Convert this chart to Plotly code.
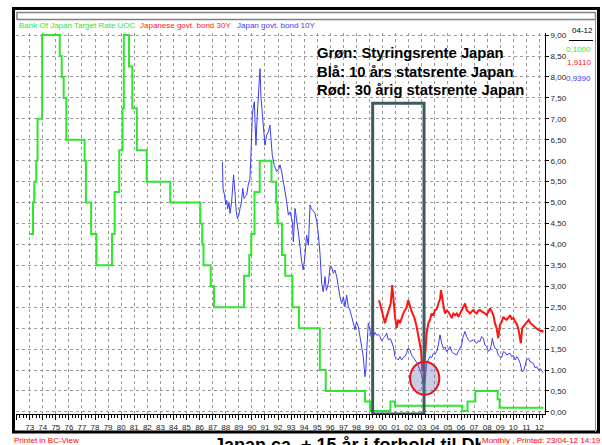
import plotly.graph_objects as go

# --- data ---
# Bank of Japan target rate (UOC), step changes: (year, new level)
boj_x = [1972.95, 1973.25, 1973.35, 1973.5, 1973.6, 1973.95, 1975.3, 1975.45, 1975.6, 1975.8,
         1977.2, 1977.3, 1977.7, 1978.1, 1979.3, 1979.5, 1979.85, 1980.1, 1980.2, 1980.6,
         1980.85, 1981.2, 1981.95, 1983.75, 1986.05, 1986.2, 1986.3, 1986.85, 1987.1, 1989.4,
         1989.8, 1989.95, 1990.2, 1990.6, 1991.5, 1991.85, 1991.95, 1992.3, 1992.55, 1993.1,
         1993.6, 1995.2, 1995.65, 1998.65, 1999.05, 2000.6, 2000.95, 2006.1, 2006.5, 2007.1,
         2008.8, 2008.95, 2012.3]
boj_y = [4.25, 5.0, 5.5, 6.0, 7.0, 9.0, 8.5, 8.0, 7.5, 6.5,
         6.0, 5.0, 4.25, 3.5, 4.25, 5.25, 6.25, 7.25, 9.0, 8.25,
         7.25, 6.25, 5.5, 5.0, 4.5, 4.0, 3.5, 3.0, 2.5, 3.25,
         3.75, 4.25, 5.25, 6.0, 5.5, 5.0, 4.5, 3.75, 3.25, 2.5,
         2.0, 1.0, 0.5, 0.25, 0.02, 0.25, 0.15, 0.02, 0.25, 0.5,
         0.3, 0.1, 0.1]

# Japan govt. bond 10Y
jgb10_x = [1987.74, 1987.8, 1987.9, 1988.0, 1988.07, 1988.15, 1988.25, 1988.33, 1988.45, 1988.55,
           1988.6, 1988.7, 1988.8, 1988.9, 1989.0, 1989.09, 1989.2, 1989.3, 1989.4, 1989.5,
           1989.6, 1989.72, 1989.85, 1989.93, 1990.03, 1990.12, 1990.19, 1990.24, 1990.31, 1990.41,
           1990.54, 1990.62, 1990.7, 1990.8, 1990.9, 1991.0, 1991.13, 1991.26, 1991.38, 1991.46,
           1991.56, 1991.71, 1991.9, 1992.05, 1992.15, 1992.28, 1992.4, 1992.53, 1992.66, 1992.79,
           1992.92, 1993.1, 1993.17, 1993.3, 1993.43, 1993.55, 1993.7, 1993.8, 1993.93, 1994.05,
           1994.19, 1994.32, 1994.45, 1994.55, 1994.7, 1994.83, 1994.96, 1995.08, 1995.21, 1995.34,
           1995.46, 1995.59, 1995.7, 1995.85, 1995.98, 1996.1, 1996.23, 1996.35, 1996.49, 1996.61,
           1996.74, 1996.87, 1997.0, 1997.12, 1997.25, 1997.38, 1997.5, 1997.64, 1997.77, 1997.89,
           1998.0, 1998.14, 1998.27, 1998.4, 1998.52, 1998.65, 1998.72, 1998.78, 1998.91, 1999.04,
           1999.17, 1999.3, 1999.42, 1999.55, 1999.68, 1999.8, 1999.92, 2000.05, 2000.18, 2000.31,
           2000.44, 2000.6, 2000.72, 2000.82, 2000.95, 2001.08, 2001.2, 2001.33, 2001.46, 2001.58,
           2001.7, 2001.83, 2001.96, 2002.09, 2002.22, 2002.35, 2002.48, 2002.66, 2002.86, 2002.99,
           2003.12, 2003.2, 2003.3, 2003.37, 2003.5, 2003.63, 2003.76, 2003.89, 2004.02, 2004.14,
           2004.27, 2004.39, 2004.52, 2004.65, 2004.78, 2004.9, 2005.03, 2005.16, 2005.29, 2005.41,
           2005.54, 2005.67, 2005.8, 2005.92, 2006.05, 2006.13, 2006.3, 2006.43, 2006.56, 2006.69,
           2006.81, 2006.94, 2007.07, 2007.2, 2007.33, 2007.45, 2007.58, 2007.7, 2007.83, 2007.96,
           2008.09, 2008.22, 2008.32, 2008.4, 2008.5, 2008.6, 2008.72, 2008.85, 2008.98, 2009.11,
           2009.24, 2009.37, 2009.49, 2009.62, 2009.75, 2009.88, 2010.01, 2010.14, 2010.27, 2010.4,
           2010.53, 2010.66, 2010.8, 2010.9, 2011.0, 2011.18, 2011.28, 2011.41, 2011.54, 2011.67,
           2011.8, 2011.93, 2012.05, 2012.18, 2012.3]
jgb10_y = [5.97, 5.3, 5.2, 4.95, 5.05, 4.85, 5.0, 4.74, 5.02, 5.5,
           5.66, 5.26, 4.8, 4.62, 4.7, 4.86, 5.0, 5.34, 5.1, 5.15,
           5.18, 5.42, 5.58, 6.13, 7.09, 7.3, 7.41, 6.93, 6.37, 7.09,
           7.73, 8.2, 7.49, 7.09, 6.61, 6.37, 6.61, 6.69, 6.85, 6.53,
           6.13, 5.89, 5.74, 5.8, 5.9, 5.74, 5.5, 5.34, 5.02, 4.7,
           4.78, 4.54, 4.06, 4.86, 4.6, 4.3, 3.9, 3.6, 3.39, 3.7,
           4.22, 3.98, 4.94, 4.85, 4.8, 4.74, 4.55, 4.26, 3.79, 3.07,
           2.87, 3.23, 2.9, 3.07, 3.47, 3.47, 3.31, 3.39, 3.23, 2.99,
           2.75, 2.59, 2.75, 2.51, 2.79, 2.51, 2.43, 2.27, 2.12, 1.96,
           2.15, 2.04, 1.8, 1.56, 1.32, 0.84, 1.0, 1.44, 2.12, 1.96,
           1.72, 1.8, 1.9, 1.83, 1.85, 1.8, 1.7, 1.76, 1.8, 1.88,
           1.72, 1.75, 1.65, 1.56, 1.32, 1.28, 1.24, 1.32, 1.24, 1.3,
           1.32, 1.4, 1.52, 1.48, 1.36, 1.3, 1.24, 1.16, 1.0, 0.88,
           0.64, 0.6, 0.9, 1.16, 1.24, 1.32, 1.3, 1.4, 1.38, 1.44,
           1.6, 1.84, 1.64, 1.52, 1.55, 1.44, 1.5, 1.56, 1.45, 1.4,
           1.38, 1.36, 1.45, 1.52, 1.6, 1.76, 1.92, 1.8, 1.72, 1.68,
           1.7, 1.72, 1.68, 1.64, 1.7, 1.68, 1.8, 1.76, 1.6, 1.56,
           1.45, 1.48, 1.6, 1.76, 1.6, 1.52, 1.5, 1.36, 1.32, 1.3,
           1.44, 1.42, 1.36, 1.38, 1.4, 1.32, 1.35, 1.24, 1.32, 1.26,
           1.16, 0.96, 0.99, 1.1, 1.24, 1.28, 1.2, 1.18, 1.16, 1.05,
           1.08, 1.0, 1.04, 0.98, 0.94]

# Japanese govt. bond 30Y
jgb30_x = [1999.67, 1999.75, 1999.93, 2000.05, 2000.18, 2000.28, 2000.44, 2000.62, 2000.74, 2000.82,
           2000.95, 2001.08, 2001.2, 2001.33, 2001.46, 2001.58, 2001.71, 2001.84, 2001.96, 2002.09,
           2002.22, 2002.35, 2002.48, 2002.6, 2002.78, 2002.94, 2003.04, 2003.12, 2003.24, 2003.37,
           2003.5, 2003.63, 2003.75, 2003.88, 2004.0, 2004.13, 2004.27, 2004.4, 2004.47, 2004.6,
           2004.7, 2004.78, 2004.9, 2005.04, 2005.17, 2005.3, 2005.42, 2005.55, 2005.68, 2005.8,
           2005.93, 2006.06, 2006.19, 2006.31, 2006.44, 2006.57, 2006.7, 2006.82, 2006.94, 2007.07,
           2007.2, 2007.32, 2007.45, 2007.58, 2007.7, 2007.83, 2007.96, 2008.09, 2008.22, 2008.35,
           2008.48, 2008.6, 2008.72, 2008.85, 2008.98, 2009.11, 2009.24, 2009.37, 2009.49, 2009.62,
           2009.75, 2009.88, 2010.01, 2010.14, 2010.27, 2010.4, 2010.5, 2010.58, 2010.68, 2010.8,
           2010.93, 2011.05, 2011.18, 2011.31, 2011.44, 2011.56, 2011.69, 2011.82, 2011.95, 2012.08,
           2012.2, 2012.3]
jgb30_y = [2.63, 2.64, 2.43, 2.3, 2.12, 2.24, 2.43, 2.59, 3.03, 2.67,
           2.27, 2.0, 2.2, 2.12, 2.27, 2.35, 2.43, 2.5, 2.67, 2.51,
           2.4, 2.31, 2.2, 2.04, 1.72, 1.48, 1.0, 1.0, 1.32, 1.88,
           2.12, 2.2, 2.35, 2.3, 2.43, 2.45, 2.59, 2.7, 2.91, 2.59,
           2.45, 2.35, 2.42, 2.39, 2.3, 2.24, 2.35, 2.31, 2.35, 2.27,
           2.35, 2.43, 2.5, 2.59, 2.43, 2.38, 2.35, 2.4, 2.43, 2.38,
           2.35, 2.42, 2.43, 2.4, 2.38, 2.35, 2.31, 2.4, 2.47, 2.4,
           2.3, 2.12, 2.0, 1.76, 2.08, 2.15, 2.27, 2.22, 2.2, 2.25,
           2.31, 2.22, 2.24, 2.16, 2.1, 1.96, 1.8, 1.64, 2.0, 2.05,
           2.12, 2.15, 2.2, 2.12, 2.08, 2.05, 2.0, 1.98, 1.96, 1.93,
           1.94, 1.91]

year_ticks = [1972, 1973, 1974, 1975, 1976, 1977, 1978, 1979, 1980, 1981, 1982, 1983, 1984, 1985,
              1986, 1987, 1988, 1989, 1990, 1991, 1992, 1993, 1994, 1995, 1996, 1997, 1998, 1999,
              2000, 2001, 2002, 2003, 2004, 2005, 2006, 2007, 2008, 2009, 2010, 2011, 2012]
year_labels = ['', '73', '74', '75', '76', '77', '78', '79', '80', '81', '82', '83', '84', '85',
               '86', '87', '88', '89', '90', '91', '92', '93', '94', '95', '96', '97', '98', '99',
               '00', '01', '02', '03', '04', '05', '06', '07', '08', '09', '10', '11', '12']

last_values = ['0,1000', '1,9110', '0,9390']
last_date = '04-12'

GREEN = '#2ee62e'
RED = '#ff1414'
BLUE = '#3c3cf0'
FONT = 'Liberation Sans, Arial, sans-serif'

# page geometry (pixels)
W, H = 602, 445
L, R, T, B = 16, 57, 33, 31
PW, PH = W - L - R, H - T - B


def px(x):
    return (x - L) / PW


def py(y):
    return (H - B - y) / PH


fig = go.Figure()

fig.add_trace(go.Scatter(x=boj_x, y=boj_y, mode='lines', line=dict(color=GREEN, width=2, shape='hv'),
                         name='Bank Of Japan Target Rate UOC'))
fig.add_trace(go.Scatter(x=jgb30_x, y=jgb30_y, mode='lines', line=dict(color=RED, width=2),
                         name='Japanese govt. bond 30Y'))
fig.add_trace(go.Scatter(x=jgb10_x, y=jgb10_y, mode='lines', line=dict(color=BLUE, width=1),
                         name='Japan govt. bond 10Y'))

shapes = [
    # outer frame
    dict(type='rect', xref='paper', yref='paper', x0=px(13.5), x1=px(598.5), y0=py(432), y1=py(8.5),
         line=dict(color='black', width=3), layer='above'),
    # grey title bar + inner right edge
    dict(type='rect', xref='paper', yref='paper', x0=px(17), x1=px(595.5), y0=py(19.5), y1=py(12.5),
         line=dict(color='#808080', width=1.5)),
    dict(type='line', xref='paper', yref='paper', x0=px(595.5), x1=px(595.5), y0=py(432), y1=py(13),
         line=dict(color='#909090', width=1)),
    # line under the date
    dict(type='line', xref='paper', yref='paper', x0=px(569), x1=px(593), y0=py(40.5), y1=py(40.5),
         line=dict(color='black', width=1)),
    # highlight box 1999-2003
    dict(type='rect', xref='x', yref='y', x0=1999.24, x1=2003.17, y0=-0.05, y1=7.37,
         line=dict(color='#3e5a60', width=3), layer='above'),
    # circle at the 2003 low
    dict(type='circle', xref='x', yref='y', x0=2002.1, x1=2004.34, y0=0.41, y1=1.2,
         line=dict(color='#ee1111', width=2), fillcolor='rgba(100,110,175,0.35)', layer='above'),
]

ann = []


def label(text, x, y, color='black', size=8, anchor='left', **kw):
    ann.append(dict(text=text, xref='paper', yref='paper', x=px(x), y=py(y), xanchor=anchor,
                    yanchor='middle', showarrow=False, font=dict(family=FONT, size=size, color=color), **kw))


label('Bank Of Japan Target Rate UOC', 17, 25.5, GREEN)
label('Japanese govt. bond 30Y', 138, 25.5, RED)
label('Japan govt. bond 10Y', 235, 25.5, BLUE)

label(last_date, 582, 30.5, 'black', anchor='center')
label(last_values[0], 593, 49, GREEN, anchor='right')
label(last_values[1], 593, 63, RED, anchor='right')
label(last_values[2], 593, 78, BLUE, anchor='right')

label('<b>Grøn: Styringsrente Japan</b>', 315, 53, size=14.8)
label('<b>Blå: 10 års statsrente Japan</b>', 315, 71.5, size=14.8)
label('<b>Rød: 30 årig statsrente Japan</b>', 315, 90, size=14.8)

label('<b>Japan ca. + 15 år i forhold til DK</b>', 212, 445, size=18)
label('Printet in BC-View', 12, 440, '#ff0000')
label('Monthly , Printed: 23/04-12 14:19', 480, 440, '#ff0000', bgcolor='white', borderpad=1)

fig.update_layout(
    width=W, height=H,
    margin=dict(l=L, r=R, t=T, b=B, pad=0),
    paper_bgcolor='white', plot_bgcolor='white',
    showlegend=False,
    separators=',.',
    font=dict(family=FONT, size=8, color='#222'),
    shapes=shapes,
    annotations=ann,
    xaxis=dict(range=[1971.952, 2012.426], tickmode='array', tickvals=year_ticks, ticktext=year_labels,
               showgrid=True, gridcolor='#9a9a9a', griddash='dot', gridwidth=1,
               showline=True, linecolor='black', linewidth=1,
               ticks='outside', ticklen=5, tickcolor='black', tickfont=dict(size=8, color='#222'),
               minor=dict(dtick=0.25, tick0=1972, ticks='outside', ticklen=3, tickcolor='black', showgrid=False),
               zeroline=False, fixedrange=True),
    yaxis=dict(range=[-0.05, 9.05], side='right', tick0=0, dtick=0.5, tickformat='.2f',
               showgrid=True, gridcolor='#9a9a9a', griddash='dot', gridwidth=1,
               showline=True, linecolor='black', linewidth=1,
               ticks='outside', ticklen=3, tickcolor='black', tickfont=dict(size=8, color='#222'),
               zeroline=False, fixedrange=True),
)

# the page's default 8px body margin would shift the figure, remove it
fig.write_html('out.html', config={'displayModeBar': False},
               post_script="document.body.style.margin='0';document.body.style.overflow='hidden';")
